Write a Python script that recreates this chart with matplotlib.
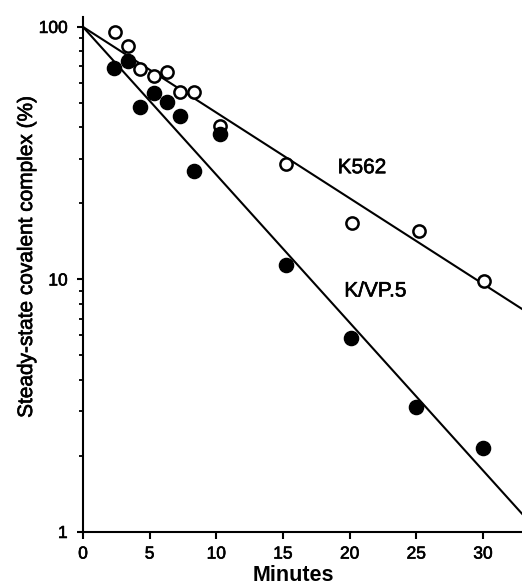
import matplotlib.pyplot as plt
import matplotlib.patheffects as pe
from matplotlib.ticker import FixedLocator, NullFormatter, FixedFormatter, LogLocator

plt.rcParams['font.family'] = ['Liberation Sans', 'DejaVu Sans']

# data (minutes, % of steady-state covalent complex)
k562_min = [2.4, 3.4, 4.3, 5.3, 6.3, 7.3, 8.3, 10.3, 15.2, 20.2, 25.2, 30.1]
k562_pct = [95.8, 84, 68, 64, 66.6, 55, 55, 40.6, 28.6, 16.7, 15.5, 9.9]

kvp_min = [2.35, 3.4, 4.3, 5.3, 6.3, 7.3, 8.3, 10.3, 15.2, 20.1, 25.0, 30.0]
kvp_pct = [68.5, 73, 48, 54.8, 50.6, 44.5, 26.8, 37.6, 11.4, 5.85, 3.13, 2.15]

# fitted exponential lines (start at 100 %)
fit_min = [0, 33]
k562_fit = [100, 7.6]
kvp_fit = [100, 1.17]

# slightly heavier text, like the printed original
heavy = [pe.withStroke(linewidth=0.45, foreground='black')]

fig = plt.figure(figsize=(5.22, 5.86), dpi=100)
ax = fig.add_axes([0.159, 0.0922, 0.841, 0.879])

ax.plot(fit_min, k562_fit, color='black', linewidth=1.5, zorder=2)
ax.plot(fit_min, kvp_fit, color='black', linewidth=1.5, zorder=2)

ax.plot(k562_min, k562_pct, 'o', markersize=8.8, markerfacecolor='white',
        markeredgecolor='black', markeredgewidth=1.8, zorder=3, clip_on=False)
ax.plot(kvp_min, kvp_pct, 'o', markersize=10.2, markerfacecolor='black',
        markeredgecolor='black', zorder=3, clip_on=False)

ax.set_yscale('log')
ax.set_xlim(0, 32.93)
ax.set_ylim(1, 109.6)

# axes style
for side in ['top', 'right']:
    ax.spines[side].set_visible(False)
for side in ['left', 'bottom']:
    ax.spines[side].set_linewidth(1.5)

ax.set_xticks([0, 5, 10, 15, 20, 25, 30])
ax.yaxis.set_major_locator(FixedLocator([1, 10, 100]))
ax.yaxis.set_major_formatter(FixedFormatter(['1', '10', '100']))
ax.yaxis.set_minor_locator(LogLocator(base=10, subs=range(2, 10)))
ax.yaxis.set_minor_formatter(NullFormatter())

ax.tick_params(axis='x', which='major', direction='out', length=5, width=1.5,
               pad=5.5, labelsize=12.5)
ax.tick_params(axis='y', which='major', direction='out', length=4.5, width=1.5,
               pad=6.5, labelsize=12.5)
ax.tick_params(axis='y', which='minor', direction='out', length=3, width=1.3)

ax.set_ylabel('Steady-state covalent complex (%)', fontsize=15)
ax.yaxis.set_label_coords(-0.107, 0.535)
ax.set_xlabel('Minutes', fontsize=15.5, fontweight='bold', va='baseline')
ax.xaxis.set_label_coords(0.48, -0.096)

# series labels
ax.text(19.1, 27.7, 'K562', fontsize=15, va='center', ha='left', path_effects=heavy)
ax.text(19.6, 9.0, 'K/VP.5', fontsize=15, va='center', ha='left', path_effects=heavy)

for lab in ax.get_xticklabels() + ax.get_yticklabels():
    lab.set_path_effects(heavy)
ax.yaxis.label.set_path_effects(heavy)

plt.savefig('out.png', dpi=100)
plt.close()
